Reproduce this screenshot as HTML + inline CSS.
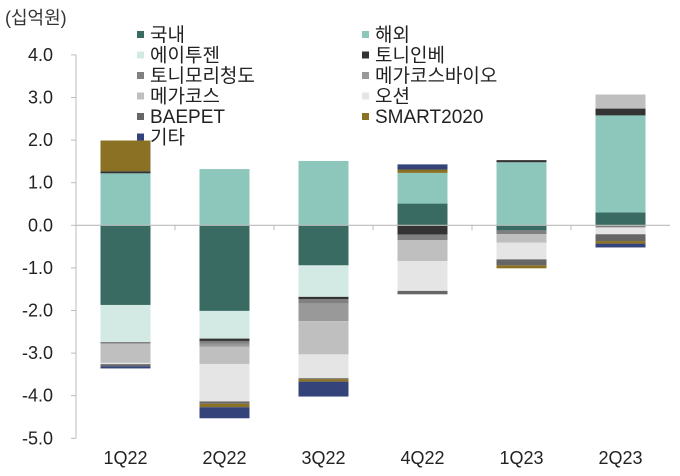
<!DOCTYPE html>
<html><head><meta charset="utf-8"><style>
body{margin:0;background:#fff;}
svg{display:block;font-family:"Liberation Sans","Noto Sans CJK KR",sans-serif;}
</style></head><body>
<svg id="chart" width="680" height="476"></svg>
<script>
const categories=["1Q22","2Q22","3Q22","4Q22","1Q23","2Q23"];
const seriesNames=["국내","해외","에이투젠","토니인베","토니모리청도","메가코스바이오","메가코스","오션","BAEPET","SMART2020","기타"];
const seriesColors=["#3a6b63","#8dc7bc","#d2e9e4","#333333","#808080","#999999","#bfbfbf","#e5e5e5","#666666","#8b7124","#34447a"];
const s_domestic=[-1.87,-2.01,-0.94,0.51,-0.12,0.30];
const s_overseas=[1.22,1.32,1.51,0.72,1.48,2.28];
const s_aitogen=[-0.87,-0.65,-0.74,0,0,0];
const s_tonyinv=[0.05,-0.055,-0.05,-0.22,0.05,0.16];
const s_tonyqd=[-0.04,-0.06,-0.11,-0.13,-0.09,-0.05];
const s_megabio=[0,-0.07,-0.41,0,0,0];
const s_megacos=[-0.45,-0.41,-0.78,-0.49,-0.2,0.33];
const s_ocean=[-0.03,-0.88,-0.56,-0.70,-0.39,-0.16];
const s_baepet=[-0.05,-0.055,-0.02,-0.08,-0.14,-0.16];
const s_smart=[0.72,-0.08,-0.06,0.08,-0.07,-0.06];
const s_other=[-0.05,-0.26,-0.35,0.12,0,-0.09];
const yTicks=[4,3,2,1,0,-1,-2,-3,-4,-5];
const seriesValues=[s_domestic,s_overseas,s_aitogen,s_tonyinv,s_tonyqd,s_megabio,s_megacos,s_ocean,s_baepet,s_smart,s_other];

const svg=document.getElementById('chart');
const NS="http://www.w3.org/2000/svg";
const X0=76,STEP=99,BW=50;
const y=v=>225.3-v*42.6;
const xc=i=>X0+STEP*(i+0.5);
function mk(tag,attrs,parent){const e=document.createElementNS(NS,tag);for(const k in attrs)e.setAttribute(k,attrs[k]);(parent||svg).appendChild(e);return e;}

const title=mk('text',{x:5,y:24,'font-size':18,fill:'#333'});


title.textContent='(십억원)';

const yax=mk('line',{x1:X0,y1:y(4),x2:X0,y2:y(-5),stroke:'#bbb','stroke-width':1});


yTicks.forEach(t=>{
  const tk=mk('line',{x1:X0-5,y1:y(t),x2:X0,y2:y(t),stroke:'#bbb'});
  
  
  const lb=mk('text',{x:53,y:y(t)+6,'text-anchor':'end','font-size':18,fill:'#222'});
  
  
  lb.textContent=t.toFixed(1);
});

categories.forEach((c,i)=>{
  let pos=0,neg=0;
  seriesValues.forEach((arr,s)=>{
    const v=arr[i]; if(!v) return;
    let top,bot;
    if(v>0){top=pos+v;bot=pos;pos=top;}else{top=neg;bot=neg+v;neg=bot;}
    const r=mk('rect',{x:xc(i)-BW/2,y:y(top),width:BW,height:y(bot)-y(top),fill:seriesColors[s]});
    
    
  });
  const lb=mk('text',{x:xc(i),y:464,'text-anchor':'middle','font-size':18,fill:'#222'});
  
  
  lb.textContent=c;
});

const zl=mk('line',{x1:X0,y1:y(0),x2:X0+STEP*6,y2:y(0),stroke:'#bbb','stroke-width':1.2});


for(let i=1;i<6;i++){
  const tk=mk('line',{x1:X0+STEP*i,y1:y(0),x2:X0+STEP*i,y2:y(0)+5,stroke:'#bbb'});
  
  
}

seriesNames.forEach((n,s)=>{
  const col=s%2,row=Math.floor(s/2);
  const mx=col?362:137, cy=35+row*20.5;
  const g=mk('g',{});
  
  
  mk('rect',{x:mx,y:cy-4,width:7,height:7,fill:seriesColors[s]},g);
  const t=mk('text',{x:mx+13,y:cy+6,'font-size':19,fill:'#222'},g);
  t.textContent=n;
});
</script>
</body></html>
